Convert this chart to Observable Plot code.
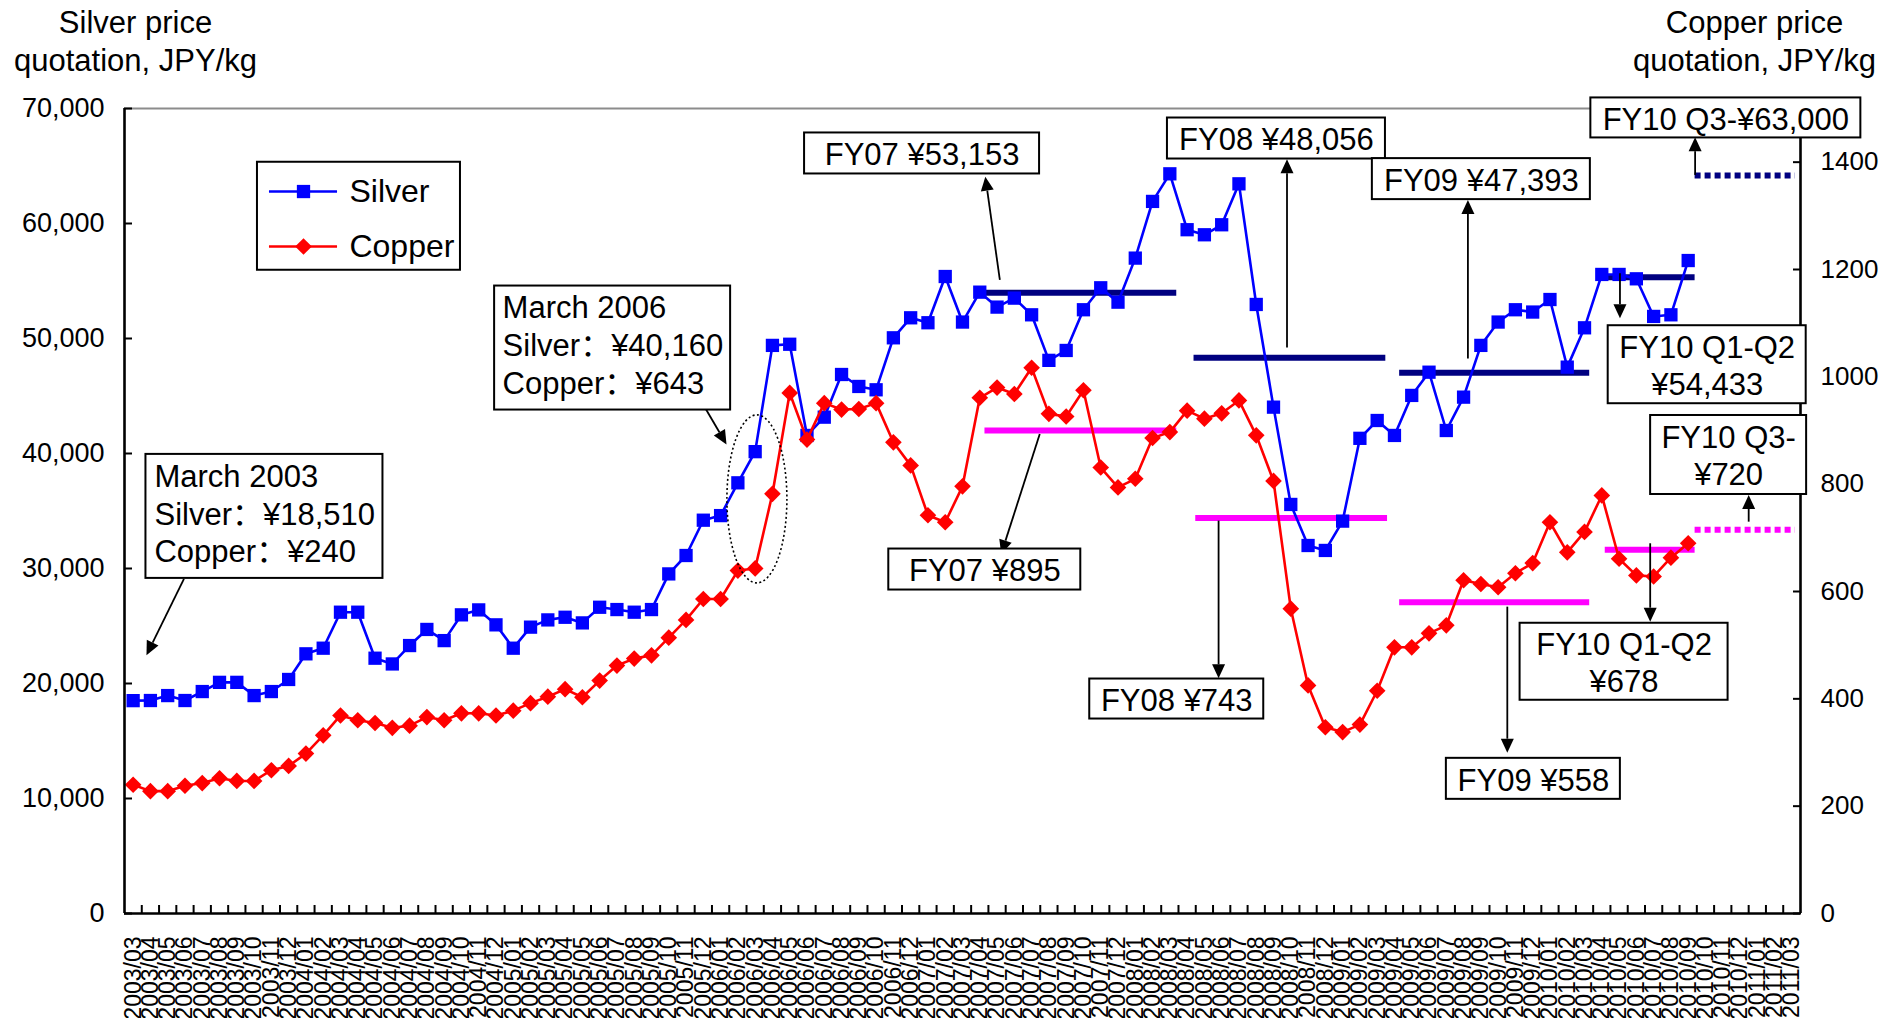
<!DOCTYPE html>
<html>
<head>
<meta charset="utf-8">
<script src="https://cdn.jsdelivr.net/npm/d3@7"></script>
<script src="https://cdn.jsdelivr.net/npm/@observablehq/plot@0.6"></script>
<style>
  html, body { margin: 0; padding: 0; background: #fff; }
  #chart svg { display: block; }
</style>
</head>
<body>
<div id="chart"></div>
<script>
// ---------- category labels (monthly, 2003/03 .. 2011/03) ----------
const months = [];
for (let y = 2003, m = 3; months.length < 97; ) {
  months.push(`${y}/${String(m).padStart(2, "0")}`);
  if (++m > 12) { m = 1; y++; }
}

// ---------- series values (JPY/kg), 2003/03 .. 2010/09 ----------
const silver = [
  18510, 18520, 18950, 18520, 19300, 20100, 20100, 18950, 19300, 20350,
  22580, 23070, 26200, 26200, 22200, 21700, 23300, 24700, 23730, 25970,
  26400, 25100, 23070, 24900, 25530, 25760, 25270, 26630, 26430, 26200,
  26430, 29530, 31130, 34200, 34600, 37450, 40160, 49400, 49500, 41570,
  43160, 46870, 45830, 45540, 50060, 51800, 51370, 55390, 51430, 54030,
  52730, 53510, 52060, 48100, 48960, 52500, 54410, 53160, 56990, 61920,
  64320, 59460, 59020, 59890, 63450, 52960, 44030, 35570, 32000, 31570,
  34120, 41320, 42870, 41570, 45050, 47070, 42000, 44900, 49400, 51430,
  52500, 52300, 53390, 47510, 50930, 55570, 55570, 55190, 51920, 52060,
  56780
];
const copper = [
  240, 228, 228, 238, 243, 252, 247, 247, 267, 275,
  298, 332, 369, 360, 355, 346, 350, 366, 360, 373,
  373, 369, 378, 392, 404, 418, 403, 434, 462, 475,
  481, 514, 547, 586, 586, 639, 643, 782, 970, 883,
  951, 939, 940, 951, 878, 835, 742, 729, 796, 961,
  980, 968, 1017, 931, 926, 975, 831, 794, 810, 886,
  897, 937, 922, 932, 956, 891, 806, 568, 425, 347,
  338, 352, 415, 496, 496, 522, 537, 621, 614, 608,
  634, 653, 729, 673, 711, 779, 661, 630, 628, 663,
  690
];

// ---------- period averages as drawn (month-index span, level) ----------
const silverAvg = [
  {x1: 49.3, x2: 60.4, v: 53980, dotted: false},
  {x1: 61.4, x2: 72.5, v: 48320, dotted: false},
  {x1: 73.3, x2: 84.3, v: 47020, dotted: false},
  {x1: 85.0, x2: 90.4, v: 55330, dotted: false},
  {x1: 90.4, x2: 96.2, v: 64180, dotted: true}
];
const copperAvg = [
  {x1: 49.3, x2: 60.4, v: 900, dotted: false},
  {x1: 61.5, x2: 72.6, v: 737, dotted: false},
  {x1: 73.3, x2: 84.3, v: 580, dotted: false},
  {x1: 85.2, x2: 90.4, v: 678, dotted: false},
  {x1: 90.4, x2: 96.2, v: 715, dotted: true}
];

// ---------- axis ticks ----------
const silverTicks = [0, 10000, 20000, 30000, 40000, 50000, 60000, 70000];
const copperTicks = [0, 200, 400, 600, 800, 1000, 1200, 1400];
const K = 70000 / 1500; // copper units -> silver-axis units

// ---------- annotations (positions in month index / silver-axis units) ----------
const notes = [
  {x: 7.60,  y: 34530, w: 237, h: 124, align: "start", t: "March 2003\nSilver：¥18,510\nCopper：¥240"},
  {x: 27.75, y: 49170, w: 236, h: 124, align: "start", t: "March 2006\nSilver：¥40,160\nCopper：¥643"},
  {x: 45.66, y: 66090, w: 235, h: 41, align: "middle", t: "FY07 ¥53,153"},
  {x: 66.17, y: 67390, w: 218, h: 41, align: "middle", t: "FY08 ¥48,056"},
  {x: 78.03, y: 63860, w: 218, h: 41, align: "middle", t: "FY09 ¥47,393"},
  {x: 92.18, y: 69180, w: 270, h: 40, align: "middle", t: "FY10 Q3-¥63,000"},
  {x: 91.10, y: 47720, w: 198, h: 78, align: "middle", t: "FY10 Q1-Q2\n¥54,433"},
  {x: 49.29, y: 29910, w: 192, h: 41, align: "middle", t: "FY07 ¥895"},
  {x: 60.40, y: 18650, w: 174, h: 40, align: "middle", t: "FY08 ¥743"},
  {x: 81.04, y: 11710, w: 174, h: 41, align: "middle", t: "FY09 ¥558"},
  {x: 86.29, y: 21890, w: 208, h: 77, align: "middle", t: "FY10 Q1-Q2\n¥678"},
  {x: 92.34, y: 39870, w: 156, h: 79, align: "middle", t: "FY10 Q3-\n¥720"}
];
const arrows = [
  {x1: 2.97,  y1: 29050, x2: 0.80,  y2: 22420},
  {x1: 33.18, y1: 43800, x2: 34.37, y2: 40750},
  {x1: 50.19, y1: 55050, x2: 49.35, y2: 64030},
  {x1: 66.81, y1: 49170, x2: 66.81, y2: 65540},
  {x1: 77.28, y1: 48220, x2: 77.28, y2: 62000},
  {x1: 90.43, y1: 64180, x2: 90.43, y2: 67460},
  {x1: 86.08, y1: 55620, x2: 86.08, y2: 51710},
  {x1: 52.50, y1: 41650, x2: 50.27, y2: 31220},
  {x1: 62.85, y1: 34120, x2: 62.85, y2: 20410},
  {x1: 79.56, y1: 26640, x2: 79.56, y2: 13940},
  {x1: 87.83, y1: 32150, x2: 87.83, y2: 25330},
  {x1: 93.53, y1: 34030, x2: 93.53, y2: 36350}
];
const ellipse = {x: 36.13, y: 36010, rx: 30, ry: 84};

const legendItems = [
  {name: "Silver", color: "#0000FF", symbol: "square", y: 62780},
  {name: "Copper", color: "#FF0000", symbol: "diamond2", y: 58000}
];
const legendBox = {x: 13.07, y: 60630, w: 203, h: 108};
const legendLine = {x1: 7.89, x2: 11.83, xm: 9.86, xt: 12.52};

// ---------- build ----------
const FONT = "'Liberation Sans', Arial, 'Noto Sans CJK SC', sans-serif";
const NS = "http://www.w3.org/2000/svg";
function el(name, attrs) {
  const e = document.createElementNS(NS, name);
  for (const k in attrs) e.setAttribute(k, attrs[k]);
  return e;
}
function fx(scales) { return typeof scales.x === "function" ? scales.x : (v) => scales.scales.x.apply(v); }
function fy(scales) { return typeof scales.y === "function" ? scales.y : (v) => scales.scales.y.apply(v); }

const silverData = silver.map((v, i) => ({i, v}));
const copperData = copper.map((v, i) => ({i, v: v * K}));
const idx = d3.range(months.length);
const bounds = d3.range(months.length - 1).map((i) => i + 0.5);

const arrowMark = (index, scales) => {
  const X = fx(scales), Y = fy(scales);
  const g = el("g", {"aria-label": "arrows"});
  for (const a of arrows) {
    const x1 = X(a.x1), y1 = Y(a.y1), x2 = X(a.x2), y2 = Y(a.y2);
    const L = Math.hypot(x2 - x1, y2 - y1), ux = (x2 - x1) / L, uy = (y2 - y1) / L;
    const hl = 14, hw = 6.5, bx = x2 - ux * hl, by = y2 - uy * hl;
    g.appendChild(el("line", {x1, y1, x2: bx, y2: by, stroke: "#000", "stroke-width": 1.8}));
    g.appendChild(el("path", {d: `M${x2},${y2}L${bx - uy * hw},${by + ux * hw}L${bx + uy * hw},${by - ux * hw}Z`, fill: "#000"}));
  }
  return g;
};
const ellipseMark = (index, scales) => {
  const X = fx(scales), Y = fy(scales);
  return el("ellipse", {cx: X(ellipse.x), cy: Y(ellipse.y), rx: ellipse.rx, ry: ellipse.ry,
    fill: "none", stroke: "#000", "stroke-width": 1.6, "stroke-dasharray": "2,2.5"});
};
const boxMark = (index, scales) => {
  const X = fx(scales), Y = fy(scales);
  const g = el("g", {"aria-label": "boxes"});
  for (const b of [...notes, legendBox]) {
    g.appendChild(el("rect", {x: X(b.x) - b.w / 2, y: Y(b.y) - b.h / 2, width: b.w, height: b.h,
      fill: "#fff", stroke: "#000", "stroke-width": 2}));
  }
  return g;
};

const chart = Plot.plot({
  width: 1899,
  height: 1018,
  marginLeft: 124,
  marginRight: 99,
  marginTop: 108,
  marginBottom: 105,
  x: {type: "linear", domain: [-0.5, 96.5], axis: null},
  y: {domain: [0, 70000], axis: null},
  style: {fontFamily: FONT, background: "#fff", color: "#000", overflow: "visible"},
  marks: [
    // frame
    Plot.ruleY([70000], {stroke: "#8c8c8c", strokeWidth: 2}),
    // averages
    Plot.ruleY(silverAvg.filter((d) => !d.dotted), {y: "v", x1: "x1", x2: "x2", stroke: "#000080", strokeWidth: 6}),
    Plot.ruleY(silverAvg.filter((d) => d.dotted), {y: "v", x1: "x1", x2: "x2", stroke: "#000080", strokeWidth: 6, strokeDasharray: "6,4"}),
    Plot.ruleY(copperAvg.filter((d) => !d.dotted), {y: (d) => d.v * K, x1: "x1", x2: "x2", stroke: "#FF00FF", strokeWidth: 6}),
    Plot.ruleY(copperAvg.filter((d) => d.dotted), {y: (d) => d.v * K, x1: "x1", x2: "x2", stroke: "#FF00FF", strokeWidth: 6, strokeDasharray: "6,4"}),
    // series
    Plot.line(silverData, {x: "i", y: "v", stroke: "#0000FF", strokeWidth: 2.6}),
    Plot.dot(silverData, {x: "i", y: "v", symbol: "square", r: 7.5, fill: "#0000FF", stroke: null}),
    Plot.line(copperData, {x: "i", y: "v", stroke: "#FF0000", strokeWidth: 2.6}),
    Plot.dot(copperData, {x: "i", y: "v", symbol: "diamond2", r: 7.5, fill: "#FF0000", stroke: null}),
    // axes lines
    Plot.ruleX([-0.5], {stroke: "#000", strokeWidth: 2.6}),
    Plot.ruleX([96.5], {stroke: "#000", strokeWidth: 2.6}),
    Plot.ruleY([0], {stroke: "#000", strokeWidth: 2.6}),
    Plot.axisY(silverTicks, {anchor: "left", tickSize: -8, tickPadding: 28, strokeWidth: 2,
      tickFormat: d3.format(","), fontSize: 27, label: null}),
    Plot.axisY(copperTicks.map((c) => c * K), {anchor: "right", tickSize: -8, tickPadding: 28, strokeWidth: 2,
      tickFormat: (d) => String(Math.round(d / K)), fontSize: 26, label: null}),
    Plot.axisX(bounds, {tickSize: -8, strokeWidth: 2, tickFormat: () => "", label: null}),
    Plot.axisX(idx, {tickSize: 0, tickPadding: 23, tickRotate: -90, tickFormat: (i) => months[i], fontSize: 23, label: null}),
    // axis titles
    Plot.text(["Silver price\nquotation, JPY/kg"], {text: (d) => d, frameAnchor: "top-left", dx: 11, dy: -102,
      textAnchor: "middle", lineAnchor: "top", fontSize: 31, lineHeight: 1.22}),
    Plot.text(["Copper price\nquotation, JPY/kg"], {text: (d) => d, frameAnchor: "top-right", dx: -46, dy: -102,
      textAnchor: "middle", lineAnchor: "top", fontSize: 31, lineHeight: 1.22}),
    // annotations
    ellipseMark,
    arrowMark,
    boxMark,
    Plot.text(notes.filter((d) => d.align === "start"), {x: "x", y: "y", text: "t", textAnchor: "start", dx: -110, dy: -4,
      lineAnchor: "middle", fontSize: 31, lineHeight: 1.22, fill: "#000"}),
    Plot.text(notes.filter((d) => d.align === "middle"), {x: "x", y: "y", text: "t", textAnchor: "middle",
      lineAnchor: "middle", fontSize: 31, lineHeight: 1.2, fill: "#000"}),
    // legend
    Plot.ruleY(legendItems, {y: "y", x1: legendLine.x1, x2: legendLine.x2, stroke: "color", strokeWidth: 2.6}),
    Plot.dot(legendItems, {x: legendLine.xm, y: "y", symbol: "symbol", r: 7.5, fill: "color", stroke: null}),
    Plot.text(legendItems, {x: legendLine.xt, y: "y", text: "name", textAnchor: "start", lineAnchor: "middle", fontSize: 32, fill: "#000"})
  ]
});
document.getElementById("chart").appendChild(chart);
</script>
</body>
</html>
